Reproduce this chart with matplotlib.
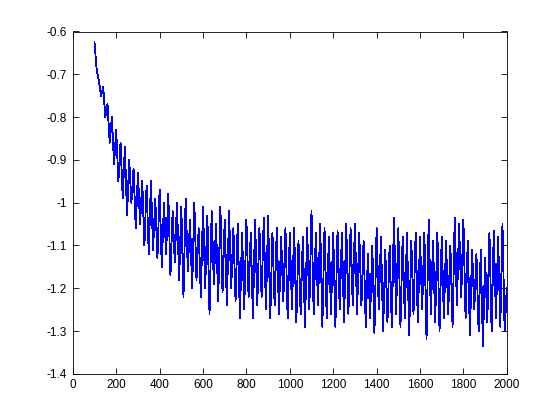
import numpy as np
import matplotlib
matplotlib.use("Agg")
import matplotlib.pyplot as plt
from matplotlib.ticker import FuncFormatter

plt.rcParams['axes.unicode_minus'] = False
plt.rcParams['font.family'] = ['Liberation Sans', 'DejaVu Sans']

x_start, x_step = 100, 10
values = [
    -0.625, -0.69, -0.715, -0.75, -0.73, -0.80, -0.77, -0.86, -0.80, -0.91,
    -0.83, -0.95, -0.86, -0.99, -0.87, -1.03, -0.90, -1.00, -0.92, -1.06,
    -0.93, -1.05, -0.95, -1.10, -0.96, -1.12, -0.95, -1.11, -0.99, -1.13,
    -0.97, -1.15, -1.00, -1.12, -0.98, -1.17, -1.02, -1.14, -1.00, -1.18,
    -1.01, -1.22, -0.99, -1.16, -1.04, -1.20, -1.00, -1.18, -1.06, -1.22,
    -1.01, -1.20, -1.03, -1.26, -1.02, -1.19, -1.05, -1.23, -1.01, -1.21,
    -1.04, -1.24, -1.02, -1.20, -1.06, -1.23, -1.05, -1.27, -1.07, -1.25,
    -1.04, -1.22, -1.07, -1.27, -1.04, -1.24, -1.06, -1.22, -1.035, -1.25,
    -1.03, -1.27, -1.07, -1.24, -1.06, -1.26, -1.08, -1.23, -1.06, -1.27,
    -1.07, -1.25, -1.06, -1.28, -1.09, -1.26, -1.08, -1.29, -1.06, -1.25,
    -1.02, -1.26, -1.07, -1.24, -1.05, -1.29, -1.06, -1.27, -1.08, -1.26,
    -1.07, -1.29, -1.065, -1.25, -1.07, -1.28, -1.05, -1.26, -1.06, -1.24,
    -1.05, -1.26, -1.07, -1.24, -1.09, -1.29, -1.12, -1.27, -1.10, -1.305,
    -1.06, -1.25, -1.08, -1.30, -1.11, -1.28, -1.10, -1.29, -1.035, -1.26,
    -1.06, -1.29, -1.08, -1.27, -1.07, -1.31, -1.09, -1.26, -1.07, -1.28,
    -1.08, -1.25, -1.07, -1.32, -1.04, -1.26, -1.09, -1.28, -1.07, -1.30,
    -1.08, -1.27, -1.09, -1.26, -1.10, -1.29, -1.035, -1.24, -1.05, -1.22,
    -1.04, -1.27, -1.09, -1.31, -1.11, -1.25, -1.12, -1.30, -1.11, -1.335,
    -1.13, -1.28, -1.07, -1.30, -1.065, -1.27, -1.08, -1.29, -1.05, -1.30,
    -1.20,
]
x = x_start + x_step * np.arange(len(values))

xticks = [0, 200, 400, 600, 800, 1000, 1200, 1400, 1600, 1800, 2000]
yticks = [-1.4, -1.3, -1.2, -1.1, -1.0, -0.9, -0.8, -0.7, -0.6]

fig = plt.figure(figsize=(5.6, 4.2), dpi=100, facecolor='white')
ax = fig.add_axes([0.13, 0.11, 0.775, 0.815])
ax.plot(x, values, color=(0, 0, 1), linewidth=0.6, antialiased=False)
ax.set_xlim(0, 2000)
ax.set_ylim(-1.4, -0.6)
ax.set_xticks(xticks)
ax.set_yticks(yticks)
ax.yaxis.set_major_formatter(FuncFormatter(lambda v, p: '%g' % round(v, 2)))
ax.tick_params(direction='in', length=4, width=0.6, top=True, right=True,
               labelsize=8.5, pad=4, colors='black')
for s in ax.spines.values():
    s.set_linewidth(0.6)
fig.savefig('out.png', dpi=100, facecolor='white')
